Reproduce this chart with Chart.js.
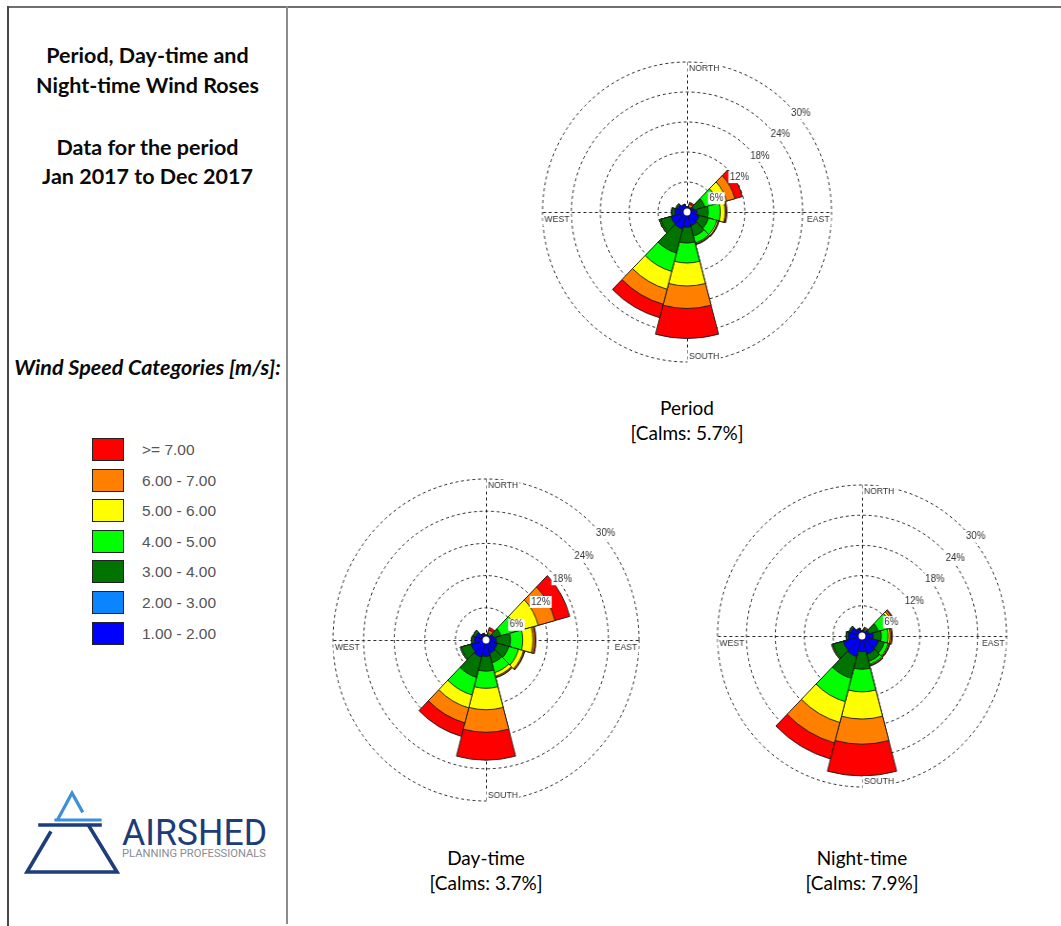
<!DOCTYPE html>
<html>
<head>
<meta charset="utf-8">
<title>Period, Day-time and Night-time Wind Roses</title>
<script src="https://cdn.jsdelivr.net/npm/chart.js@4.4.1/dist/chart.umd.min.js"></script>
<style>
  html, body { margin: 0; padding: 0; background: #fff; }
  body { width: 1061px; height: 926px; position: relative; overflow: hidden;
         font-family: Lato, "Open Sans", sans-serif; color: #111; }
  .rule { position: absolute; }
  .panel-text { position: absolute; left: 8px; width: 279px; text-align: center; white-space: nowrap; }
  .title { font-weight: 700; font-size: 21.5px; line-height: 28px; color: #0a0a0a; }
  .legend-head { font-weight: 700; font-style: italic; font-size: 21.5px; line-height: 28px; color: #0a0a0a; }
  .swatch { position: absolute; left: 92px; width: 30px; height: 21px; border: 1px solid #222; }
  .swatch-label { position: absolute; left: 142px; font: 15.5px "Liberation Sans", Arial, sans-serif;
                  color: #555; line-height: 23px; white-space: nowrap; }
  .caption { position: absolute; width: 240px; text-align: center; font-size: 19px; line-height: 24.5px;
             white-space: nowrap; color: #000; }
  .rose { position: absolute; transform-origin: 50% 50%; }
  .rose canvas { display: block; }
</style>
</head>
<body>

<div class="rule" style="left:8px;top:6px;width:1053px;height:2px;background:#707070"></div>
<div class="rule" style="left:7px;top:6px;width:2px;height:920px;background:#474747"></div>
<div class="rule" style="left:286px;top:6px;width:2px;height:918px;background:#8c8c8c"></div>

<div class="panel-text title" style="top:41px">Period, Day-time and</div>
<div class="panel-text title" style="top:71px">Night-time Wind Roses</div>
<div class="panel-text title" style="top:133px">Data for the period</div>
<div class="panel-text title" style="top:162px">Jan 2017 to Dec 2017</div>
<div class="panel-text legend-head" style="top:353px">Wind Speed Categories [m/s]:</div>

<div id="legend"></div>

<svg style="position:absolute;left:0;top:780px" width="286" height="110" viewBox="0 0 286 110">
  <g fill="none" stroke-linecap="square">
    <polyline points="58,39 72,13 82,31" stroke="#3d8fd6" stroke-width="3.2"/>
    <line x1="56" y1="40" x2="100" y2="40" stroke="#3d8fd6" stroke-width="3.2"/>
    <line x1="40" y1="45" x2="100" y2="45" stroke="#1d3d7b" stroke-width="3.6"/>
    <polyline points="50,53 27,92 117,92 89,46" stroke="#1d3d7b" stroke-width="3.6" stroke-linejoin="miter"/>
  </g>
  <text x="122" y="65" font-family="Roboto, 'Liberation Sans', sans-serif" font-size="36" fill="#1e3c78"
        textLength="145" lengthAdjust="spacingAndGlyphs">AIRSHED</text>
  <text x="122" y="77" font-family="Roboto, 'Liberation Sans', sans-serif" font-size="11.5" fill="#8a8d93"
        textLength="144" lengthAdjust="spacingAndGlyphs">PLANNING PROFESSIONALS</text>
</svg>

<div id="roses"></div>

<script>
// Direction bins (12 sectors of 30 degrees, clockwise from north)
const directions = ['0°', '30°', '60°', '90°', '120°', '150°', '180°', '210°', '240°', '270°', '300°', '330°'];

// Wind speed classes [m/s] and their colours, slowest first
const speedCategories = ['1.00 - 2.00', '2.00 - 3.00', '3.00 - 4.00', '4.00 - 5.00', '5.00 - 6.00', '6.00 - 7.00', '>= 7.00'];
const speedColors = ['#0000ff', '#0a84ff', '#007300', '#00ff00', '#ffff00', '#ff8000', '#ff0000'];

// Frequency of occurrence [%], one row per speed class, one column per direction bin
const periodFreq = [
  [0.9, 0.8, 1.4, 2.0, 2.6, 2.8, 3.0, 3.5, 3.4, 2.5, 2.0, 1.5],
  [0.0, 0.0, 0.0, 0.0, 0.0, 0.0, 0.0, 0.0, 0.0, 0.0, 0.0, 0.0],
  [0.2, 0.1, 2.4, 2.4, 2.0, 2.2, 3.2, 5.0, 2.2, 0.6, 0.4, 0.1],
  [0.0, 0.1, 2.8, 2.5, 1.8, 1.4, 4.0, 3.8, 0.2, 0.1, 0.0, 0.0],
  [0.0, 0.1, 1.9, 1.0, 0.3, 0.2, 4.6, 3.7, 0.1, 0.0, 0.0, 0.0],
  [0.0, 0.5, 1.8, 0.2, 0.1, 0.1, 4.5, 3.1, 0.0, 0.0, 0.0, 0.0],
  [0.0, 0.4, 1.6, 0.2, 0.1, 0.1, 6.0, 2.8, 0.0, 0.0, 0.0, 0.0]
];
const dayFreq = [
  [0.8, 0.8, 1.5, 2.0, 2.3, 2.5, 3.0, 3.3, 3.0, 2.3, 2.0, 1.2],
  [0.0, 0.0, 0.0, 0.0, 0.0, 0.0, 0.0, 0.0, 0.0, 0.0, 0.0, 0.0],
  [0.1, 0.2, 1.5, 2.8, 2.3, 1.9, 2.8, 3.9, 2.0, 0.5, 0.6, 0.1],
  [0.0, 0.2, 3.2, 2.4, 2.0, 1.9, 3.2, 3.4, 0.2, 0.0, 0.0, 0.0],
  [0.0, 0.2, 4.4, 2.0, 1.0, 0.7, 4.0, 2.5, 0.0, 0.0, 0.0, 0.0],
  [0.0, 0.5, 3.4, 0.4, 0.2, 0.2, 4.2, 2.9, 0.0, 0.0, 0.0, 0.0],
  [0.0, 0.5, 3.0, 0.2, 0.1, 0.1, 5.2, 2.6, 0.0, 0.0, 0.0, 0.0]
];
const nightFreq = [
  [1.0, 0.9, 1.5, 2.3, 3.5, 3.7, 3.1, 4.2, 4.0, 2.8, 2.4, 1.5],
  [0.0, 0.0, 0.0, 0.0, 0.0, 0.0, 0.0, 0.0, 0.0, 0.0, 0.0, 0.0],
  [0.1, 0.3, 2.0, 1.7, 1.3, 1.5, 3.5, 4.5, 2.2, 0.5, 0.4, 0.1],
  [0.0, 0.2, 2.8, 1.4, 0.8, 0.6, 4.5, 4.8, 0.2, 0.0, 0.0, 0.0],
  [0.0, 0.1, 0.5, 0.4, 0.2, 0.2, 5.4, 4.3, 0.1, 0.0, 0.0, 0.0],
  [0.0, 0.2, 0.4, 0.3, 0.1, 0.1, 5.0, 4.2, 0.0, 0.0, 0.0, 0.0],
  [0.0, 0.1, 0.2, 0.2, 0.1, 0.1, 6.3, 3.3, 0.0, 0.0, 0.0, 0.0]
];

// Rose captions and calm percentages
const roseTitles = ['Period', 'Day-time', 'Night-time'];
const roseCalms = [5.7, 3.7, 7.9];

// Frequency rings and compass labels
const ringTicks = [6, 12, 18, 24, 30];
const compassLabels = ['NORTH', 'EAST', 'SOUTH', 'WEST'];

// ---------------------------------------------------------------------------
// Page placement of each rose: centre, vertical and horizontal outer-ring radius
const roseLayout = [
  { cx: 687, cy: 212, rv: 150, rh: 144.5, capY: 396 },
  { cx: 486, cy: 640, rv: 161, rh: 153,   capY: 846 },
  { cx: 862, cy: 636, rv: 151, rh: 144.5, capY: 846 }
];
const roseData = [periodFreq, dayFreq, nightFreq];
const RING_MAX = ringTicks[ringTicks.length - 1];
const MARGIN = 4;

// Legend swatches (fastest class on top)
const legend = document.getElementById('legend');
speedCategories.map((label, k) => ({ label, color: speedColors[k] })).reverse().forEach((item, i) => {
  const top = 438 + i * 30.6;
  const sw = document.createElement('div');
  sw.className = 'swatch';
  sw.style.top = top + 'px';
  sw.style.background = item.color;
  legend.appendChild(sw);
  const tx = document.createElement('div');
  tx.className = 'swatch-label';
  tx.style.top = top + 'px';
  tx.textContent = item.label;
  legend.appendChild(tx);
});

// Stack the speed classes: each layer reaches the running total of its direction
function cumulative(freq) {
  let run = directions.map(() => 0);
  return freq.map(row => {
    run = run.map((v, i) => Math.round((v + row[i]) * 1000) / 1000);
    return run.slice();
  });
}

const roseDecor = {
  id: 'roseDecor',
  beforeDatasetsDraw(chart) {
    const s = chart.scales.r, ctx = chart.ctx;
    const R = s.getDistanceFromCenterForValue(RING_MAX);
    const x0 = s.xCenter + 0.5, y0 = s.yCenter + 0.5;
    ctx.save();
    ctx.strokeStyle = '#222222';
    ctx.lineWidth = 1;
    ctx.setLineDash([3, 3]);
    ctx.beginPath();
    ctx.moveTo(x0 - R, y0); ctx.lineTo(x0 + R, y0);
    ctx.moveTo(x0, y0 - R); ctx.lineTo(x0, y0 + R);
    ctx.stroke();
    ctx.restore();
  },
  afterDatasetsDraw(chart) {
    const s = chart.scales.r, ctx = chart.ctx;
    const cx = s.xCenter, cy = s.yCenter;
    const R = s.getDistanceFromCenterForValue(RING_MAX);
    ctx.save();
    // calm circle
    ctx.beginPath();
    ctx.arc(cx, cy, 3.5, 0, Math.PI * 2);
    ctx.fillStyle = '#ffffff';
    ctx.fill();

    const boxed = (text, x, y, align) => {
      const w = ctx.measureText(text).width;
      const left = align === 'right' ? x - w : x;
      ctx.fillStyle = '#ffffff';
      ctx.fillRect(left - 1.5, y - 6, w + 3, 12);
      ctx.fillStyle = '#333333';
      ctx.textAlign = align;
      ctx.fillText(text, x, y);
    };
    ctx.textBaseline = 'middle';

    // ring percentages along the north-east diagonal
    ctx.font = '10px "Liberation Sans", Arial, sans-serif';
    ringTicks.forEach(t => {
      const r = s.getDistanceFromCenterForValue(t);
      boxed(t + '%', cx + r * Math.SQRT1_2 + 2, cy - r * Math.SQRT1_2 + 7.5, 'left');
    });

    // compass points on the outer ring
    ctx.font = '9px "Liberation Sans", Arial, sans-serif';
    boxed(compassLabels[0], cx + 2, cy - R + 7, 'left');
    boxed(compassLabels[1], cx + R - 2, cy + 8, 'right');
    boxed(compassLabels[2], cx + 2, cy + R - 5, 'left');
    boxed(compassLabels[3], cx - R + 2, cy + 8, 'left');
    ctx.restore();
  }
};

const host = document.getElementById('roses');
roseLayout.forEach((lay, n) => {
  const half = lay.rv + MARGIN;
  const size = half * 2;
  const wrap = document.createElement('div');
  wrap.className = 'rose';
  wrap.style.left = (lay.cx - half) + 'px';
  wrap.style.top = (lay.cy - half) + 'px';
  wrap.style.width = size + 'px';
  wrap.style.height = size + 'px';
  wrap.style.transform = 'scaleX(' + (lay.rh / lay.rv) + ')';
  const canvas = document.createElement('canvas');
  canvas.width = size;
  canvas.height = size;
  wrap.appendChild(canvas);
  host.appendChild(wrap);

  const cap = document.createElement('div');
  cap.className = 'caption';
  cap.style.left = (lay.cx - 120) + 'px';
  cap.style.top = lay.capY + 'px';
  cap.innerHTML = roseTitles[n] + '<br>[Calms: ' + roseCalms[n].toFixed(1) + '%]';
  document.body.appendChild(cap);

  const layers = cumulative(roseData[n]);
  new Chart(canvas, {
    type: 'polarArea',
    data: {
      labels: directions,
      datasets: layers.map((vals, k) => ({
        label: speedCategories[k],
        data: vals,
        backgroundColor: speedColors[k],
        borderColor: '#161616',
        borderWidth: 0.9
      }))
    },
    options: {
      responsive: false,
      animation: false,
      events: [],
      layout: { padding: 0 },
      plugins: { legend: { display: false }, tooltip: { enabled: false } },
      scales: {
        r: {
          min: 0,
          max: RING_MAX * half / lay.rv,
          startAngle: -15,
          ticks: { display: false, stepSize: 6, includeBounds: false },
          afterBuildTicks: scale => { scale.ticks = scale.ticks.filter(t => t.value <= RING_MAX + 1e-6); },
          grid: { circular: true, color: '#222222', lineWidth: 1 },
          border: { dash: [3, 3] },
          angleLines: { display: false },
          pointLabels: { display: false }
        }
      }
    },
    plugins: [roseDecor]
  });
});
</script>
</body>
</html>
